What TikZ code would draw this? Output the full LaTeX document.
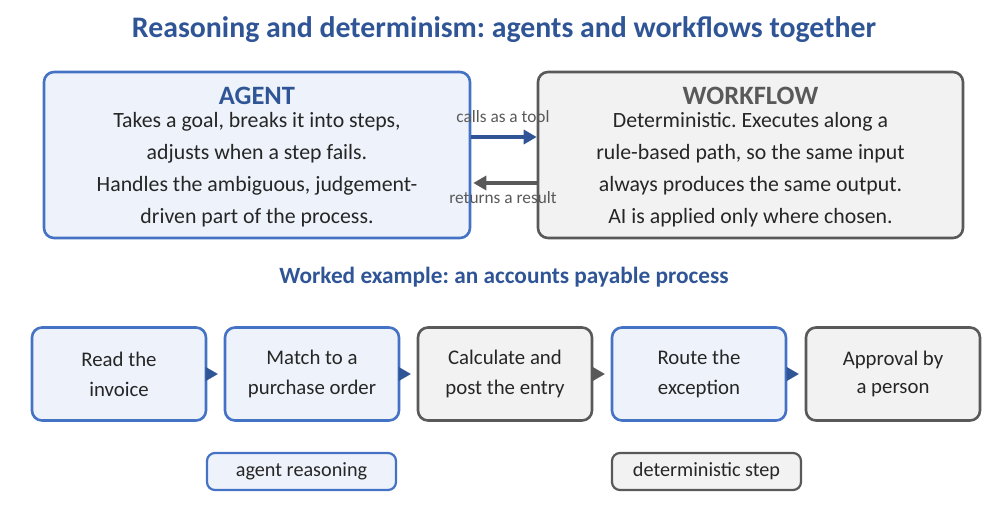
\documentclass[tikz,border=0pt]{standalone}
\usepackage{fontspec}
\setmainfont{Carlito}
\frenchspacing
\usetikzlibrary{arrows.meta}
\definecolor{bluebd}{HTML}{4472C4}
\definecolor{bluefill}{HTML}{EEF3FB}
\definecolor{bluedark}{HTML}{2F5597}
\definecolor{graybd}{HTML}{595959}
\definecolor{grayfill}{HTML}{F2F2F2}
\definecolor{txt}{HTML}{262626}
\tikzset{
  agentbox/.style={draw=bluebd, fill=bluefill, line width=2.6pt, rounded corners=10pt},
  wfbox/.style={draw=graybd, fill=grayfill, line width=2.6pt, rounded corners=10pt},
  bodytext/.style={text=txt, align=center, font=\fontsize{21.8}{32}\selectfont},
  steptext/.style={text=txt, align=center, font=\fontsize{20.8}{30}\selectfont},
  lbl/.style={text=graybd, font=\fontsize{17.3}{20}\selectfont},
  tip/.style={-{Triangle[length=12pt,width=14pt]}, line width=0.1pt, shorten >=6pt},
  bigarrow/.style={line width=3.4pt, -{Triangle[length=13pt,width=14pt]}},
}
\begin{document}
\begin{tikzpicture}[x=1pt,y=-1pt]
\useasboundingbox (0,0) rectangle (1008,523);
% title
\node[text=bluedark, font=\fontsize{29.8}{34}\selectfont\bfseries] (title) at (504,30) {Reasoning and determinism: agents and workflows together};
% big boxes
\node[agentbox, minimum width=426pt, minimum height=166pt] (agent) at (257,155) {};
\node[wfbox, minimum width=425pt, minimum height=166pt] (wf) at (750.5,155) {};
\node[text=bluedark, font=\fontsize{26.5}{30}\selectfont\bfseries] (agentT) at (257,96) {AGENT};
\node[text=graybd, font=\fontsize{26.5}{30}\selectfont\bfseries] (wfT) at (750.5,96) {WORKFLOW};
\node[bodytext] (agentB) at (257,169.5) {Takes a goal, breaks it into steps,\\adjusts when a step fails.\\Handles the ambiguous, judgement-\\driven part of the process.};
\node[bodytext] (wfB) at (750.5,169.5) {Deterministic. Executes along a\\rule-based path, so the same input\\always produces the same output.\\AI is applied only where chosen.};
% connectors between big boxes
\coordinate (aR1) at (agent.east |- 0,137);
\coordinate (wL1) at (wf.west |- 0,137);
\coordinate (aR2) at (agent.east |- 0,183);
\coordinate (wL2) at (wf.west |- 0,183);
\draw[bluedark, bigarrow] (aR1) -- (wL1);
\draw[graybd, bigarrow] (wL2) -- ([xshift=2pt]aR2);
\node[lbl] (callsL) at (503,117) {calls as a tool};
\node[lbl] (retL) at (503,198) {returns a result};
% subtitle
\node[text=bluedark, font=\fontsize{23.3}{28}\selectfont\bfseries] (sub) at (504,277) {Worked example: an accounts payable process};
% steps
\node[agentbox, minimum width=174pt, minimum height=93pt, steptext] (s1) at (119,374) {Read the\\invoice};
\node[agentbox, minimum width=174pt, minimum height=93pt, steptext] (s2) at (312,374) {Match to a\\purchase order};
\node[wfbox, minimum width=174pt, minimum height=93pt, steptext] (s3) at (505,374) {Calculate and\\post the entry};
\node[agentbox, minimum width=174pt, minimum height=93pt, steptext] (s4) at (699,374) {Route the\\exception};
\node[wfbox, minimum width=174pt, minimum height=93pt, steptext, font=\fontsize{20.8}{28}\selectfont] (s5) at (893,374) {Approval by\\a person};
\draw[tip, bluedark] (s1) -- (s2);
\draw[tip, bluedark] (s2) -- (s3);
\draw[tip, graybd] (s3) -- (s4);
\draw[tip, bluedark] (s4) -- (s5);
% legend
\node[agentbox, line width=2.2pt, rounded corners=8pt, minimum width=189pt, minimum height=37pt, text=txt, font=\fontsize{20.2}{24}\selectfont] (lg1) at (301.5,471.5) {agent reasoning};
\node[wfbox, line width=2.2pt, rounded corners=8pt, minimum width=189pt, minimum height=37pt, text=txt, font=\fontsize{20.2}{24}\selectfont] (lg2) at (706.5,471.5) {deterministic step};
\end{tikzpicture}
\end{document}
